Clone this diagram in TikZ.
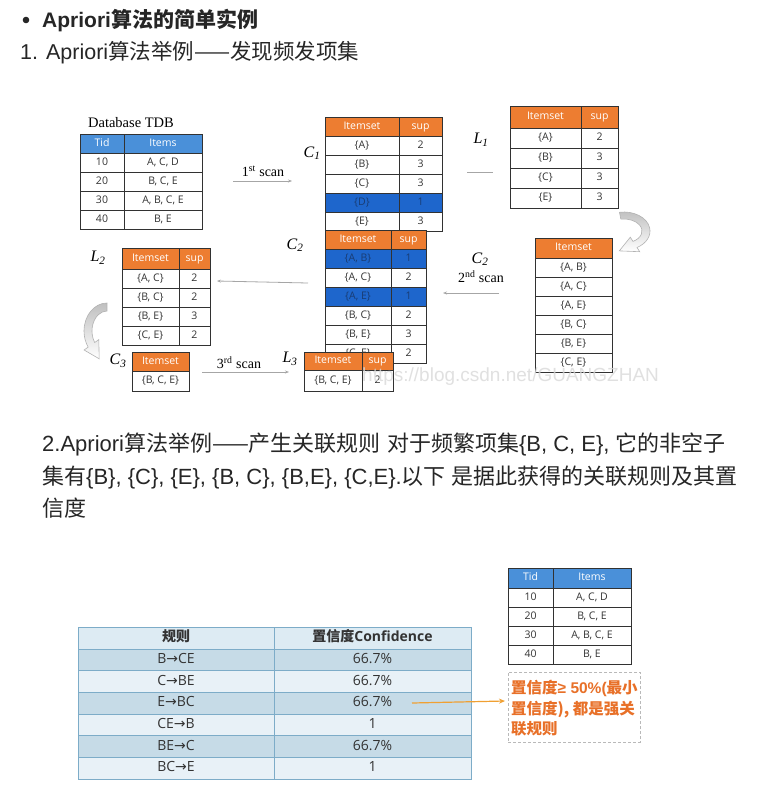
\documentclass[tikz,border=0pt]{standalone}
\usepackage{fontspec}
\setmainfont{Liberation Sans}
\newfontfamily\cjk{Noto Sans CJK SC}
\newfontfamily\tabf{Open Sans}
\newfontfamily\serifx{Liberation Serif}
\newfontfamily\arrowf{DejaVu Sans}
\usetikzlibrary{arrows.meta}
\definecolor{hdrblue}{RGB}{74,144,217}
\definecolor{orangeh}{RGB}{237,125,49}
\definecolor{selblue}{RGB}{30,102,204}
\definecolor{seltext}{RGB}{25,60,115}
\definecolor{tabline}{RGB}{50,50,50}
\definecolor{rborder}{RGB}{125,172,200}
\definecolor{rhead}{RGB}{221,235,243}
\definecolor{rdark}{RGB}{198,219,231}
\definecolor{rlight}{RGB}{232,241,247}
\definecolor{arrorange}{RGB}{240,160,50}
\definecolor{txtorange}{RGB}{232,112,40}
\newcommand\cellat[7][]{\node[cellsty,minimum width={(#4)-(#2)},minimum height={(#5)-(#3)},#1] (#6) at ({((#2)+(#4))/2},{((#3)+(#5))/2}) {#7};}
\begin{document}
\begin{tikzpicture}[x=1pt,y=-1pt,
  cellsty/.style={draw=tabline,line width=1pt,inner sep=0pt,font=\tabf\fontsize{10.5}{11}\selectfont,text=black!80,text height=7.6pt,text depth=2.2pt},
  hdrO/.style={fill=orangeh,text=white},
  hdrB/.style={fill=hdrblue,text=white},
  dbsty/.style={font=\tabf\fontsize{10.5}{11}\selectfont},
  rsty/.style={draw=rborder,line width=0.8pt,font=\tabf\fontsize{14}{14}\selectfont,text=black!80,text height=10pt,text depth=3pt},
  lbl/.style={font=\serifx\itshape\fontsize{16}{16}\selectfont,inner sep=0pt},
  scanlbl/.style={font=\serifx\fontsize{14}{14}\selectfont,inner sep=0pt},
  conn/.style={draw=gray!70,line width=0.8pt},
  tipped/.style={conn,-{Stealth[length=4pt,width=3pt]}},
  curl/.style={draw=gray!60,line width=0.6pt,top color=gray!50,bottom color=white},
  txt/.style={inner sep=0pt,anchor=base west,text=black!85}]
\useasboundingbox (0,0) rectangle (763,807);
\fill[white] (0,0) rectangle (763,807);

% ---------- header text ----------
\fill[black!85] (26,20) circle[radius=3.3];
\node[txt,font=\fontsize{21}{21}\selectfont\bfseries] (title) at (42,27.5) {Apriori{\cjk 算法的简单实例}};
\node[txt,font=\fontsize{21.5}{21.5}\selectfont] (sub1) at (20,59) {1. Apriori{\cjk 算法举例——发现频发项集}};

% ---------- Database TDB ----------
\node[scanlbl,font=\serifx\fontsize{14.5}{14.5}\selectfont] (dbl) at (131,123) {Database TDB};
\cellat[hdrB,dbsty]{80}{134}{124}{153}{dbh1}{Tid}
\cellat[hdrB,dbsty]{124}{134}{202}{153}{dbh2}{Items}
\foreach \ca/\cb [count=\i from 0] in {10/{A, C, D},20/{B, C, E},30/{A, B, C, E},40/{B, E}}{
  \cellat[dbsty]{80}{153+19*\i}{124}{172+19*\i}{db\i a}{\ca}
  \cellat[dbsty]{124}{153+19*\i}{202}{172+19*\i}{db\i b}{\cb}
}

% 1st scan
\node[scanlbl] (s1l) at (263,171) {1\textsuperscript{st} scan};
\coordinate (s1a) at (233,181);
\coordinate (s1b) at (292,181);
\draw[tipped] (s1a) -- (s1b);

% ---------- C1 ----------
\node[lbl] (c1l) at (312,153) {C\textsubscript{1}};
\cellat[hdrO]{325}{117}{399}{136}{c1h1}{Itemset}
\cellat[hdrO]{399}{117}{442}{136}{c1h2}{sup}
\foreach \ca/\cb/\fc/\tc [count=\i from 0] in {{\{A\}}/2/white/black!80,{\{B\}}/3/white/black!80,{\{C\}}/3/white/black!80,{\{D\}}/1/selblue/seltext,{\{E\}}/3/white/black!80}{
  \cellat[fill=\fc,text=\tc]{325}{136+19*\i}{399}{155+19*\i}{c1r\i a}{\ca}
  \cellat[fill=\fc,text=\tc]{399}{136+19*\i}{442}{155+19*\i}{c1r\i b}{\cb}
}

% L1
\node[lbl] (l1l) at (481,140) {L\textsubscript{1}};
\coordinate (l1a) at (467,172);
\coordinate (l1b) at (493,172);
\draw[conn] (l1a) -- (l1b);
\cellat[hdrO]{510}{106}{581}{128}{l1h1}{Itemset}
\cellat[hdrO]{581}{106}{618}{128}{l1h2}{sup}
\foreach \ca/\cb [count=\i from 0] in {{\{A\}}/2,{\{B\}}/3,{\{C\}}/3,{\{E\}}/3}{
  \cellat{510}{128+20*\i}{581}{148+20*\i}{l1r\i a}{\ca}
  \cellat{581}{128+20*\i}{618}{148+20*\i}{l1r\i b}{\cb}
}

% right curved arrow
\shadedraw[curl] (619.5,212.3) arc[start angle=-100,end angle=60,x radius=26,y radius=19]
  -- (639.7,251.7) -- (619.3,250.9) -- (630.3,237.2) -- (633,241.4)
  arc[start angle=60,end angle=-100,x radius=18,y radius=12] -- cycle;

% ---------- C2 (right) ----------
\node[lbl] (c2rl) at (480,259) {C\textsubscript{2}};
\node[scanlbl] (s2l) at (481,277) {2\textsuperscript{nd} scan};
\coordinate (s2a) at (499,293);
\coordinate (s2b) at (443,293);
\draw[tipped] (s2a) -- (s2b);
\cellat[hdrO]{535}{238}{612}{258}{c2rh}{Itemset}
\foreach \ca [count=\i from 0] in {{\{A, B\}},{\{A, C\}},{\{A, E\}},{\{B, C\}},{\{B, E\}},{\{C, E\}}}{
  \cellat{535}{258+19*\i}{612}{277+19*\i}{c2rr\i}{\ca}
}

% ---------- C2 (middle) ----------
\node[lbl] (c2ml) at (295,245) {C\textsubscript{2}};
\cellat[hdrO]{325}{230}{391}{249}{c2mh1}{Itemset}
\cellat[hdrO]{391}{230}{426}{249}{c2mh2}{sup}
\foreach \ca/\cb/\fc/\tc [count=\i from 0] in {{\{A, B\}}/1/selblue/seltext,{\{A, C\}}/2/white/black!80,{\{A, E\}}/1/selblue/seltext,{\{B, C\}}/2/white/black!80,{\{B, E\}}/3/white/black!80,{\{C, E\}}/2/white/black!80}{
  \cellat[fill=\fc,text=\tc]{325}{249+19*\i}{391}{268+19*\i}{c2mr\i a}{\ca}
  \cellat[fill=\fc,text=\tc]{391}{249+19*\i}{426}{268+19*\i}{c2mr\i b}{\cb}
}

% C2 -> L2
\coordinate (m2a) at (308,283);
\coordinate (m2b) at (217,281);
\draw[tipped] (m2a) -- (m2b);

% ---------- L2 ----------
\node[lbl] (l2l) at (98,258) {L\textsubscript{2}};
\cellat[hdrO]{122}{248}{179}{269}{l2h1}{Itemset}
\cellat[hdrO]{179}{248}{210}{269}{l2h2}{sup}
\foreach \ca/\cb [count=\i from 0] in {{\{A, C\}}/2,{\{B, C\}}/2,{\{B, E\}}/3,{\{C, E\}}/2}{
  \cellat{122}{269+19*\i}{179}{288+19*\i}{l2r\i a}{\ca}
  \cellat{179}{269+19*\i}{210}{288+19*\i}{l2r\i b}{\cb}
}

% left curved arrow
\shadedraw[curl] (107,303) arc[start angle=-90,end angle=-215,x radius=23,y radius=28]
  -- (84.1,350) -- (99.2,358.8) -- (98.8,339.6) -- (94.7,342.5)
  arc[start angle=-215,end angle=-90,x radius=15,y radius=20] -- cycle;

% ---------- C3 ----------
\node[lbl] (c3l) at (118,361) {C\textsubscript{3}};
\cellat[hdrO]{132}{352}{189}{371}{c3h}{Itemset}
\cellat{132}{371}{189}{391}{c3r}{\{B, C, E\}}

% 3rd scan
\node[scanlbl] (s3l) at (239,363) {3\textsuperscript{rd} scan};
\coordinate (s3a) at (202,372);
\coordinate (s3b) at (289,372);
\draw[tipped] (s3a) -- (s3b);

% ---------- L3 ----------
\node[lbl] (l3l) at (290,359) {L\textsubscript{3}};
\cellat[hdrO]{304}{352}{362}{370}{l3h1}{Itemset}
\cellat[hdrO]{362}{352}{393}{370}{l3h2}{sup}
\cellat{304}{370}{362}{391}{l3ra}{\{B, C, E\}}
\cellat{362}{370}{393}{391}{l3rb}{2}

% watermark
\node[txt,anchor=west,text=gray!30,font=\fontsize{19}{19}\selectfont,opacity=0.8] (wm) at (362,377) {https://blog.csdn.net/GUANGZHAN};

% ---------- paragraph ----------
\node[txt,font=\fontsize{22}{22}\selectfont] (p1) at (42,451) {2.Apriori{\cjk 算法举例——产生关联规则} {\cjk 对于频繁项集}\{B, C, E\}, {\cjk 它的非空子}};
\node[txt,font=\fontsize{22}{22}\selectfont] (p2) at (42,484) {{\cjk 集有}\{B\}, \{C\}, \{E\}, \{B, C\}, \{B,E\}, \{C,E\}.{\cjk 以下} {\cjk 是据此获得的关联规则及其置}};
\node[txt,font=\fontsize{22}{22}\selectfont] (p3) at (42,516) {{\cjk 信度}};

% ---------- rules table ----------
\cellat[rsty,fill=rhead]{78}{627}{274}{649}{rh1}{{\cjk\bfseries 规则}}
\cellat[rsty,fill=rhead]{274}{627}{471}{649}{rh2}{{\cjk\bfseries 置信度}\bfseries Confidence}
\foreach \ca/\cb/\fc [count=\i from 0] in {{B{\arrowf →}CE}/66.7\%/rdark,{C{\arrowf →}BE}/66.7\%/rlight,{E{\arrowf →}BC}/66.7\%/rdark,{CE{\arrowf →}B}/1/rlight,{BE{\arrowf →}C}/66.7\%/rdark,{BC{\arrowf →}E}/1/rlight}{
  \cellat[rsty,fill=\fc]{78}{649+21.667*\i}{274}{670.667+21.667*\i}{r\i a}{\ca}
  \cellat[rsty,fill=\fc]{274}{649+21.667*\i}{471}{670.667+21.667*\i}{r\i b}{\cb}
}

% ---------- small Tid table ----------
\cellat[hdrB,dbsty]{508}{568}{553}{588}{th1}{Tid}
\cellat[hdrB,dbsty]{553}{568}{631}{588}{th2}{Items}
\foreach \ca/\cb [count=\i from 0] in {10/{A, C, D},20/{B, C, E},30/{A, B, C, E},40/{B, E}}{
  \cellat[dbsty]{508}{588+19*\i}{553}{607+19*\i}{t\i a}{\ca}
  \cellat[dbsty]{553}{588+19*\i}{631}{607+19*\i}{t\i b}{\cb}
}

% dashed note box
\node[draw=gray!55,dash pattern=on 3pt off 2pt,line width=0.8pt,minimum width=132,minimum height=70,inner sep=0] (box) at (574,707) {};
\node[txt,text=txtorange,font=\cjk\bfseries\fontsize{15.5}{15.5}\selectfont] (bt1) at (511,693) {置信度{\rmfamily\bfseries ≥ 50\%(}最小};
\node[txt,text=txtorange,font=\cjk\bfseries\fontsize{15.5}{15.5}\selectfont] (bt2) at (511,714) {置信度), 都是强关};
\node[txt,text=txtorange,font=\cjk\bfseries\fontsize{15.5}{15.5}\selectfont] (bt3) at (511,734) {联规则};

% orange arrow
\coordinate (oa) at (412,703);
\coordinate (ob) at (505,701);
\draw[draw=arrorange,line width=1.2pt,-{Stealth[length=6pt,width=5pt]}] (oa) -- (ob);
\end{tikzpicture}
\end{document}
